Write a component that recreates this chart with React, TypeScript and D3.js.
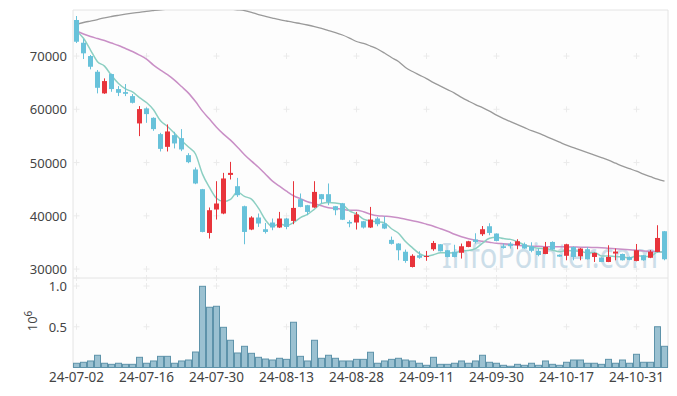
import * as d3 from 'd3';
import * as React from 'react';

// trading days shown on the chart
const dates = [
  '2024-07-02', '2024-07-03', '2024-07-04', '2024-07-05', '2024-07-08', '2024-07-09', '2024-07-10', '2024-07-11', '2024-07-12', '2024-07-15',
  '2024-07-16', '2024-07-17', '2024-07-18', '2024-07-19', '2024-07-22', '2024-07-23', '2024-07-24', '2024-07-25', '2024-07-26', '2024-07-29',
  '2024-07-30', '2024-07-31', '2024-08-01', '2024-08-02', '2024-08-05', '2024-08-06', '2024-08-07', '2024-08-08', '2024-08-09', '2024-08-12',
  '2024-08-13', '2024-08-14', '2024-08-16', '2024-08-19', '2024-08-20', '2024-08-21', '2024-08-22', '2024-08-23', '2024-08-26', '2024-08-27',
  '2024-08-28', '2024-08-29', '2024-08-30', '2024-09-02', '2024-09-03', '2024-09-04', '2024-09-05', '2024-09-06', '2024-09-09', '2024-09-10',
  '2024-09-11', '2024-09-12', '2024-09-13', '2024-09-19', '2024-09-20', '2024-09-23', '2024-09-24', '2024-09-25', '2024-09-26', '2024-09-27',
  '2024-09-30', '2024-10-02', '2024-10-04', '2024-10-07', '2024-10-08', '2024-10-10', '2024-10-11', '2024-10-14', '2024-10-15', '2024-10-16',
  '2024-10-17', '2024-10-18', '2024-10-21', '2024-10-22', '2024-10-23', '2024-10-24', '2024-10-25', '2024-10-28', '2024-10-29', '2024-10-30',
  '2024-10-31', '2024-11-01', '2024-11-04', '2024-11-05', '2024-11-06',
];

const open = [
  76770, 72500, 70000, 67050, 62990, 66620, 63800, 63230, 62480, 57350,
  60170, 58400, 55340, 52950, 55150, 54580, 51390, 48700, 45000, 36780,
  41180, 40430, 47680, 45560, 41800, 37420, 39680, 37480, 38740, 37800,
  39490, 39040, 43120, 41990, 41560, 44060, 44060, 41800, 42360, 38850,
  38740, 38980, 37800, 39490, 38550, 35480, 34790, 33250, 30390, 32590,
  32350, 33720, 34660, 33530, 33250, 33060, 34150, 35540, 36540, 38040,
  36670, 34280, 34750, 34470, 34660, 34280, 33400, 32830, 35090, 32680,
  32490, 34150, 32400, 33720, 32270, 32160, 31330, 32910, 32830, 32270,
  31520, 32590, 32120, 33210, 37100,
];

const high = [
  77520, 73200, 70190, 67370, 65810, 66700, 64360, 64740, 62860, 60600,
  60360, 58500, 55580, 57160, 55770, 56280, 51760, 49080, 45050, 41560,
  46500, 48060, 50130, 47120, 41900, 39920, 40430, 38660, 39490, 40730,
  39600, 46500, 44190, 42050, 46500, 44100, 46070, 41850, 42420, 39170,
  40730, 39050, 41670, 39790, 39860, 36100, 34850, 33660, 32780, 33340,
  33400, 35280, 34700, 33550, 34560, 34790, 35300, 36720, 38080, 38600,
  36700, 34790, 35090, 35600, 34980, 35030, 33850, 35090, 35200, 32750,
  34750, 34250, 33950, 34150, 33100, 32200, 34470, 33850, 32900, 32350,
  34710, 32650, 33580, 38230, 37150,
];

const low = [
  72440, 69440, 67500, 62990, 62900, 63290, 62480, 62480, 61100, 54960,
  57460, 55960, 52080, 52080, 52650, 52140, 49880, 45940, 36900, 35730,
  39300, 40300, 46820, 43550, 34660, 37300, 37910, 36670, 37290, 37700,
  37480, 38420, 41600, 40110, 41500, 42310, 41990, 40110, 39200, 37850,
  37420, 37610, 37700, 38040, 37500, 34600, 31650, 31180, 30300, 31930,
  31550, 33430, 33300, 32200, 32200, 31970, 34100, 34790, 36220, 36350,
  35200, 33850, 33850, 33720, 33800, 33150, 32400, 32800, 33600, 32300,
  31650, 31650, 31650, 31800, 31330, 31300, 31300, 31650, 31600, 31650,
  31450, 31550, 32050, 33150, 31650,
];

const close = [
  72690, 70510, 67990, 64040, 65300, 63800, 63100, 62910, 61220, 60040,
  59100, 56280, 52570, 55840, 53590, 52460, 50070, 46070, 36970, 41050,
  42310, 47010, 48060, 43870, 36970, 39680, 38550, 36970, 37800, 39490,
  37910, 41480, 41670, 40730, 44490, 43120, 42610, 41050, 39260, 38550,
  40240, 37800, 39300, 38420, 37610, 34730, 33530, 31520, 32490, 32120,
  32450, 34900, 33340, 32270, 32270, 34280, 35220, 35090, 37480, 36780,
  35280, 33960, 34340, 35220, 33850, 33430, 32640, 34150, 33660, 32340,
  34660, 32270, 33850, 31840, 33020, 31330, 32270, 33280, 31650, 31720,
  33530, 31650, 33250, 35840, 31840,
];

const volume = [
  52000, 64000, 80000, 150000, 52000, 39000, 52000, 39000, 39000, 125000,
  52000, 80000, 137000, 137000, 52000, 80000, 92000, 190000, 996000, 739000,
  751000, 493000, 334000, 178000, 260000, 174000, 125000, 104000, 92000, 113000,
  100000, 555000, 137000, 80000, 334000, 113000, 150000, 113000, 80000, 80000,
  100000, 100000, 187000, 52000, 80000, 100000, 113000, 92000, 80000, 52000,
  27000, 125000, 39000, 39000, 52000, 80000, 52000, 80000, 150000, 64000,
  52000, 27000, 15000, 39000, 27000, 52000, 27000, 80000, 39000, 27000,
  64000, 92000, 92000, 52000, 52000, 39000, 100000, 52000, 92000, 52000,
  162000, 64000, 64000, 500000, 260000,
];

const ma5 = [
  74700, 73330, 71130, 68930, 68110, 66330, 64850, 63830, 63270, 62210,
  61270, 59910, 57840, 56770, 55480, 54150, 52910, 51610, 47830, 45320,
  43290, 42680, 43080, 44460, 43640, 43120, 41430, 39210, 37990, 38500,
  38140, 38730, 39670, 40260, 41260, 42300, 42520, 42400, 42110, 40920,
  40340, 39380, 39030, 38860, 38670, 37570, 36720, 35160, 33980, 32880,
  32420, 32700, 33060, 33020, 33050, 33410, 33480, 33830, 34870, 35770,
  35970, 35720, 35570, 35120, 34530, 34160, 33900, 33860, 33550, 33240,
  33490, 33420, 33360, 32990, 33130, 32460, 32460, 32350, 32310, 32050,
  32490, 32370, 32360, 33200, 33220,
];

const ma20 = [
  74700, 74140, 73670, 73290, 72910, 72440, 71970, 71410, 70850, 70190,
  69440, 68310, 67370, 66520, 65490, 64270, 63040, 61450, 59660, 58160,
  56650, 55340, 54210, 52890, 51480, 50260, 49130, 47820, 46500, 45560,
  44620, 43770, 43210, 42650, 42270, 41890, 41520, 41370, 41240, 41050,
  41050, 40770, 40300, 40010, 39920, 39830, 39640, 39360, 39070, 38790,
  38420, 38040, 37570, 37100, 36540, 36070, 35690, 35410, 35220, 35030,
  34840, 34750, 34660, 34470, 34370, 34280, 34280, 34190, 34190, 34190,
  34150, 34150, 34090, 34090, 34040, 34000, 33900, 33810, 33720, 33620,
  33530, 33400, 33340, 33250, 33210,
];

const ma60 = [
  75960, 76300, 76580, 76860, 77180, 77430, 77650, 77860, 78050, 78220,
  78400, 78550, 78690, 78800, 78890, 78970, 79020, 79060, 79060, 79040,
  79010, 78930, 78820, 78690, 78540, 78220, 77780, 77450, 77140, 76840,
  76580, 76320, 76090, 75830, 75530, 75190, 74790, 74420, 73950, 73380,
  72730, 72390, 71880, 71320, 70560, 69720, 68970, 67840, 67090, 66430,
  65770, 65020, 64360, 63700, 63040, 62240, 61540, 60880, 60320, 59660,
  58910, 58250, 57690, 57120, 56560, 55990, 55520, 54960, 54400, 53830,
  53270, 52800, 52330, 51860, 51390, 50920, 50450, 49880, 49320, 48850,
  48380, 47820, 47350, 46880, 46500,
];

const priceTicks = [30000, 40000, 50000, 60000, 70000];
const volumeTicks = [500000, 1000000];
const dateTickEvery = 10;

const FONT = '"Noto Sans", "Open Sans", sans-serif';
const UP = '#e8343b';
const DOWN = '#68c2da';

const left = 73;
const right = 668;
const top = 10;
const split = 278;
const bottom = 367.5;

function Cross({ x, y }: { x: number; y: number }) {
  return (
    <path d={`M${x - 3},${y}H${x + 3}M${x},${y - 3}V${y + 3}`} stroke='#ebebeb' strokeWidth={1} />
  );
}

export default function App() {
  const x = d3.scaleBand<string>().domain(dates).range([left, right]).padding(0);
  const bw = x.bandwidth();
  const cx = (i: number) => (x(dates[i]) as number) + bw / 2;

  const yP = d3.scaleLinear().domain([28320, 78648]).range([split, top]);
  const yV = d3.scaleLinear().domain([0, 1098000]).range([bottom, split]);

  const lineGen = d3.line<number>()
    .x((_, i) => cx(i))
    .y((v) => yP(v))
    .curve(d3.curveMonotoneX);

  const tickIdx = dates.map((_, i) => i).filter((i) => i % dateTickEvery === 0);

  return (
    <svg width={677} height={396} style={{ position: 'absolute', left: 0, top: 0, background: '#fff' }}>
      <defs>
        <clipPath id='pricePane'>
          <rect x={left} y={top} width={right - left} height={split - top} />
        </clipPath>
      </defs>

      {/* frame */}
      <rect x={left} y={top} width={right - left} height={bottom - top} fill='#fdfdfd' />
      <g stroke='#e4e4e4' strokeWidth={1} fill='none'>
        <line x1={left} x2={right} y1={top} y2={top} />
        <line x1={right} x2={right} y1={top} y2={bottom} />
        <line x1={left} x2={right} y1={split} y2={split} />
        <line x1={left} x2={right} y1={bottom} y2={bottom} />
        <line x1={left} x2={left} y1={top} y2={bottom} />
      </g>

      {/* grid crosses */}
      {tickIdx.map((i) => (
        <g key={'gx' + i}>
          {priceTicks.map((t) => <Cross key={t} x={cx(i)} y={yP(t)} />)}
          {volumeTicks.map((t) => <Cross key={t} x={cx(i)} y={yV(t)} />)}
          <Cross x={cx(i)} y={split} />
        </g>
      ))}

      {/* watermark */}
      <text x={442} y={268} fontFamily={FONT} fontSize={35} fill='#c4d9e6' opacity={0.85}
        textLength={216} lengthAdjust='spacingAndGlyphs'>InfoPointer.com</text>

      {/* moving averages */}
      <g clipPath='url(#pricePane)' fill='none'>
        <path d={lineGen(ma60) as string} stroke='#9a9a9a' strokeWidth={1.3} />
        <path d={lineGen(ma20) as string} stroke='#c98fc6' strokeWidth={1.5} />
        <path d={lineGen(ma5) as string} stroke='#8ccfc2' strokeWidth={1.5} />
      </g>

      {/* candles */}
      <g clipPath='url(#pricePane)'>
        {dates.map((d, i) => {
          const up = close[i] >= open[i];
          const c = up ? UP : DOWN;
          const yTop = yP(Math.max(open[i], close[i]));
          const yBot = yP(Math.min(open[i], close[i]));
          return (
            <g key={d}>
              <line x1={cx(i)} x2={cx(i)} y1={yP(high[i])} y2={yP(low[i])} stroke={c} strokeWidth={1} />
              <rect x={cx(i) - 2.5} y={yTop} width={5} height={Math.max(1, yBot - yTop)} fill={c} />
            </g>
          );
        })}
      </g>

      {/* volume */}
      <g>
        {dates.map((d, i) => (
          <rect key={d} x={(x(d) as number) + 0.5} y={yV(volume[i])} width={bw - 1}
            height={bottom - yV(volume[i])} fill='#9bc1d1' stroke='#5e93aa' strokeWidth={1} />
        ))}
      </g>

      {/* axes text */}
      <g fontFamily={FONT} fontSize={13} fill='#444'>
        {priceTicks.map((t) => (
          <text key={t} x={67} y={yP(t)} textAnchor='end' dominantBaseline='central'>{t}</text>
        ))}
        {volumeTicks.map((t) => (
          <text key={t} x={67} y={yV(t)} textAnchor='end' dominantBaseline='central'>
            {d3.format('.1f')(t / 1e6)}
          </text>
        ))}
        <text transform='translate(37,321) rotate(-90)' textAnchor='middle'>
          10<tspan dy={-5} fontSize={10}>6</tspan>
        </text>
        {tickIdx.map((i) => (
          <text key={i} x={cx(i)} y={382} textAnchor='middle' fontSize={13.5}>{dates[i].slice(2)}</text>
        ))}
      </g>
    </svg>
  );
}
